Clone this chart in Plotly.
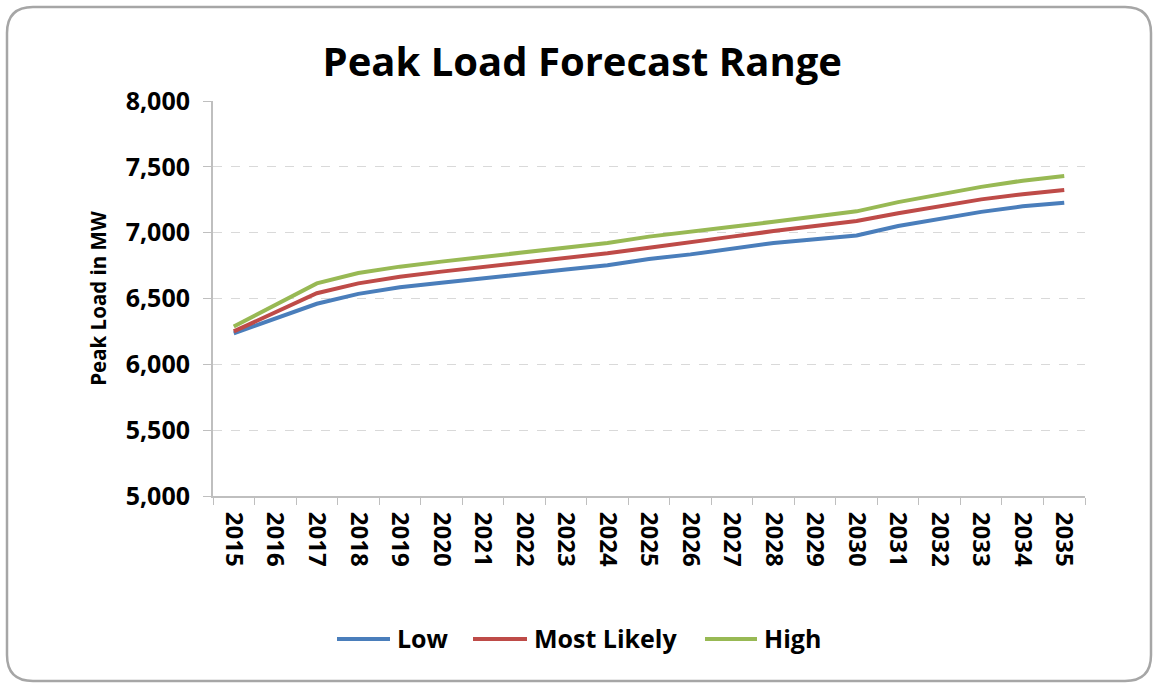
import plotly.graph_objects as go

years = [str(y) for y in range(2015, 2036)]

low = [6235, 6350, 6460, 6535, 6585, 6620, 6655, 6690, 6720, 6752, 6800,
       6835, 6878, 6922, 6950, 6978, 7050, 7105, 7158, 7200, 7228]
most_likely = [6250, 6395, 6540, 6615, 6665, 6704, 6740, 6772, 6805, 6843, 6886,
               6925, 6970, 7012, 7050, 7088, 7147, 7197, 7253, 7292, 7324]
high = [6288, 6450, 6615, 6694, 6742, 6780, 6815, 6850, 6885, 6922, 6970,
        7005, 7045, 7083, 7120, 7162, 7232, 7290, 7348, 7395, 7430]

series = [("Low", low, "#4A7EBB"),
          ("Most Likely", most_likely, "#BE4B48"),
          ("High", high, "#98B954")]

font = "'Open Sans', Lato, sans-serif"
W, H = 1153, 684
L, R, T, B = 213, 1085, 101, 496  # plot area in pixels


def xp(x):
    return (x - L) / (R - L)


def yp(y):
    return (B - y) / (B - T)


fig = go.Figure()
for name, vals, color in series:
    fig.add_trace(go.Scatter(x=years, y=vals, name=name, mode="lines",
                             line=dict(color=color, width=4)))

# rounded outer border (pixel coords -> paper)
x0, x1, y0, y1, r = 7, 1151, 7, 681, 26
path = (f"M {xp(x0 + r)} {yp(y0)} L {xp(x1 - r)} {yp(y0)} "
        f"Q {xp(x1)} {yp(y0)} {xp(x1)} {yp(y0 + r)} L {xp(x1)} {yp(y1 - r)} "
        f"Q {xp(x1)} {yp(y1)} {xp(x1 - r)} {yp(y1)} L {xp(x0 + r)} {yp(y1)} "
        f"Q {xp(x0)} {yp(y1)} {xp(x0)} {yp(y1 - r)} L {xp(x0)} {yp(y0 + r)} "
        f"Q {xp(x0)} {yp(y0)} {xp(x0 + r)} {yp(y0)} Z")
shapes = [dict(type="path", xref="paper", yref="paper", path=path,
               line=dict(color="#A6A6A6", width=2.5), layer="below")]

# custom legend: longer line samples like the original
legend_pos = [(337, 390, 395), (473, 527, 532), (705, 757, 762)]
annotations = []
for (name, _, color), (lx0, lx1, tx) in zip(series, legend_pos):
    shapes.append(dict(type="line", xref="paper", yref="paper",
                       x0=xp(lx0), x1=xp(lx1), y0=yp(639), y1=yp(639),
                       line=dict(color=color, width=4)))
    annotations.append(dict(text=f"<b>{name}</b>", xref="paper", yref="paper",
                            x=xp(tx), y=yp(638), xanchor="left", yanchor="middle",
                            showarrow=False, font=dict(size=25, family=font)))

fig.update_layout(
    width=W, height=H,
    paper_bgcolor="white", plot_bgcolor="white",
    margin=dict(l=L, r=W - R, t=T, b=H - B),
    font=dict(family=font, color="black"),
    title=dict(text="<b>Peak Load Forecast Range</b>", x=0.505, xanchor="center",
               y=1 - 62 / H, yanchor="middle", font=dict(size=40)),
    xaxis=dict(type="category", range=[-0.5, 20.5], tickangle=90,
               showline=True, linecolor="#BFBFBF", linewidth=2,
               ticks="outside", tickson="boundaries", ticklen=7, tickcolor="#BFBFBF",
               ticklabelstandoff=9,
               tickfont=dict(size=24, family=font, weight="bold"), showgrid=False),
    yaxis=dict(range=[5000, 8000], dtick=500, tickformat=",",
               showline=True, linecolor="#BFBFBF", linewidth=2,
               ticks="outside", ticklen=8, tickcolor="#BFBFBF",
               ticklabelstandoff=8,
               gridcolor="#D9D9D9", griddash="dash", gridwidth=1,
               tickfont=dict(size=25, family=font, weight="bold"),
               title=dict(text="<b>Peak Load in MW</b>", font=dict(size=20.5), standoff=14)),
    showlegend=False,
    shapes=shapes,
    annotations=annotations,
)

fig.write_html("out.html", config={"displayModeBar": False},
               post_script="document.body.style.margin='0px';")
